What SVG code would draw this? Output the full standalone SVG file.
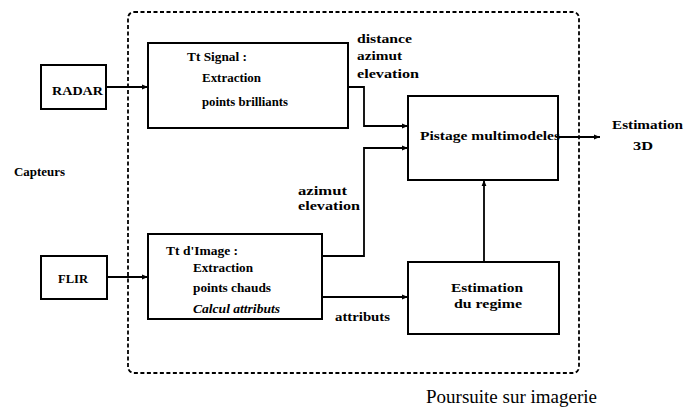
<svg xmlns="http://www.w3.org/2000/svg" width="697" height="408" viewBox="0 0 697 408" font-family="'Liberation Serif', 'DejaVu Serif', serif">
<defs>
<marker id="ah" viewBox="0 0 10 10" refX="10" refY="5" markerWidth="7" markerHeight="6" orient="auto" markerUnits="userSpaceOnUse"><path d="M0,1 L10,5 L0,9 z" fill="#000"/></marker>
<style>
.box{fill:#fff;stroke:#000;stroke-width:2}
.t{font-weight:bold;font-size:12px;fill:#000}
.b{font-size:13px}
.i{font-style:italic}
.ln{fill:none;stroke:#000;stroke-width:1.8}
.arr{marker-end:url(#ah)}
</style>
</defs>
<rect width="697" height="408" fill="#fff"/>
<g id="boundary">
<rect x="128" y="12" width="451" height="361" rx="6" fill="none" stroke="#000" stroke-width="1.8" stroke-dasharray="4,2.5"/>
<text x="426" y="403" font-size="18" textLength="171" lengthAdjust="spacingAndGlyphs">Poursuite sur imagerie</text>
</g>
<g id="connectors">
<path class="ln arr" d="M106,87 L148,87"/>
<path class="ln arr" d="M107,277 L148,277"/>
<path class="ln arr" d="M348,87 L364,87 L364,126 L408,126"/>
<path class="ln arr" d="M322,256 L364,256 L364,148 L408,148"/>
<path class="ln arr" d="M322,297 L408,297"/>
<path class="ln arr" d="M484,262 L484,180"/>
<path class="ln arr" d="M558,137 L600,137"/>
<text class="t" x="357" y="43" textLength="55" lengthAdjust="spacingAndGlyphs">distance</text>
<text class="t" x="357" y="60" textLength="45" lengthAdjust="spacingAndGlyphs">azimut</text>
<text class="t" x="357" y="78" textLength="62" lengthAdjust="spacingAndGlyphs">elevation</text>
<text class="t" x="298" y="195" textLength="49" lengthAdjust="spacingAndGlyphs">azimut</text>
<text class="t" x="298" y="210" textLength="62" lengthAdjust="spacingAndGlyphs">elevation</text>
<text class="t" x="335" y="321" textLength="55" lengthAdjust="spacingAndGlyphs">attributs</text>
</g>
<g id="capteurs"><text class="t" x="14" y="176" font-size="10" textLength="51" lengthAdjust="spacingAndGlyphs">Capteurs</text></g>
<g id="radar">
<rect class="box" x="41" y="65" width="65" height="44"/>
<text class="t b" x="52" y="95" textLength="51" lengthAdjust="spacingAndGlyphs">RADAR</text>
</g>
<g id="flir">
<rect class="box" x="41" y="256" width="66" height="43"/>
<text class="t b" x="58" y="283" textLength="30" lengthAdjust="spacingAndGlyphs">FLIR</text>
</g>
<g id="tt-signal">
<rect class="box" x="148" y="43" width="200" height="85"/>
<text class="t" x="187" y="61" textLength="60" lengthAdjust="spacingAndGlyphs">Tt Signal :</text>
<text class="t" x="202" y="82" textLength="59" lengthAdjust="spacingAndGlyphs">Extraction</text>
<text class="t" x="202" y="106" textLength="86" lengthAdjust="spacingAndGlyphs">points brilliants</text>
</g>
<g id="tt-image">
<rect class="box" x="148" y="234" width="174" height="85"/>
<text class="t" x="166" y="255" textLength="72" lengthAdjust="spacingAndGlyphs">Tt d'Image :</text>
<text class="t" x="193" y="272" textLength="60" lengthAdjust="spacingAndGlyphs">Extraction</text>
<text class="t" x="193" y="292" textLength="78" lengthAdjust="spacingAndGlyphs">points chauds</text>
<text class="t i" x="193" y="313" textLength="87" lengthAdjust="spacingAndGlyphs">Calcul attributs</text>
</g>
<g id="pistage">
<rect class="box" x="408" y="96" width="150" height="84"/>
<text class="t b" x="420" y="140" textLength="140" lengthAdjust="spacingAndGlyphs">Pistage multimodeles</text>
</g>
<g id="regime">
<rect class="box" x="408" y="262" width="151" height="72"/>
<text class="t b" x="451" y="292" textLength="72" lengthAdjust="spacingAndGlyphs">Estimation</text>
<text class="t b" x="454" y="308" textLength="68" lengthAdjust="spacingAndGlyphs">du regime</text>
</g>
<g id="estimation-3d">
<text class="t b" x="612" y="129" textLength="71" lengthAdjust="spacingAndGlyphs">Estimation</text>
<text class="t b" x="633" y="150" textLength="20" lengthAdjust="spacingAndGlyphs">3D</text>
</g>
</svg>
